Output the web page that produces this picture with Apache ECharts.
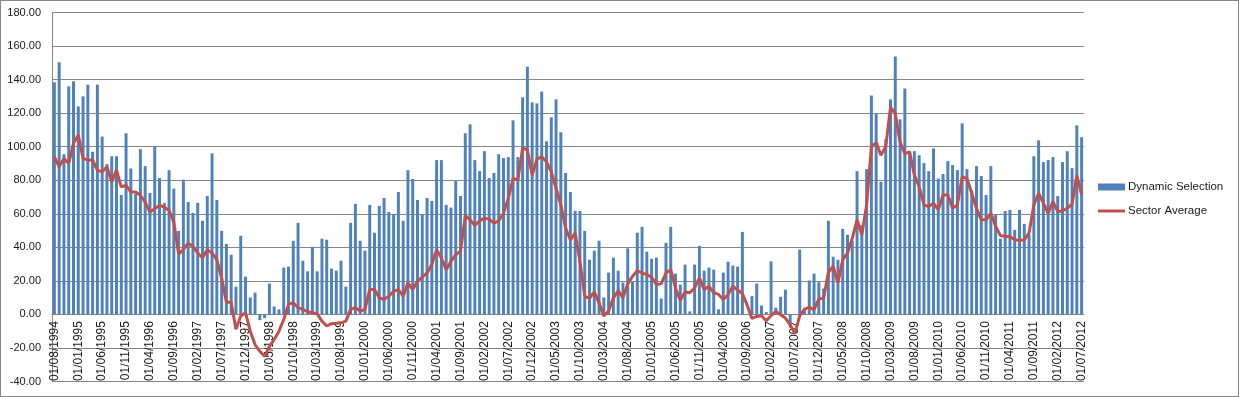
<!DOCTYPE html>
<html>
<head>
<meta charset="utf-8">
<script src="https://cdn.jsdelivr.net/npm/echarts@6/dist/echarts.min.js"></script>
<style>
  html, body { margin: 0; padding: 0; background: #fff; }
  #chart { width: 1239px; height: 397px; box-sizing: border-box; border: 1px solid #868686; }
</style>
</head>
<body>
<div id="chart"></div>
<script>
// monthly, first month 01/08/1994
var startYear = 1994;
var startMonth = 8;

var dynamicSelection = [
  138.4, 150.3, 95.5, 136, 139, 124, 130, 137, 97, 137,
  106, 89.6, 94.3, 94.3, 71.2, 108, 87, 71.8, 98.5, 88.4,
  72.4, 100.3, 81.3, 66.5, 86, 75, 49.8, 80.3, 67, 60.5,
  66.5, 55.8, 70.6, 96, 68.2, 49.8, 42, 35.6, 16.6, 46.9,
  22.5, 10.1, 13, -3.4, -2.2, 18.4, 4.7, 3, 27.9, 28.5,
  43.9, 54.6, 32, 25.7, 40.3, 25.7, 45.1, 44.5, 27.3, 26.1,
  32, 16.6, 54.6, 65.9, 43.9, 38, 65.3, 48.7, 64.7, 69.4,
  61.1, 59.7, 73, 55.8, 86, 80.7, 68.2, 59.7, 69.4, 67.6,
  92, 92, 65.3, 63.7, 79.5, 70.6, 108, 113.3, 92, 85.4,
  97.3, 81.3, 84.3, 95.5, 93.2, 93.8, 115.7, 93.8, 129.4, 147.7,
  126.4, 125.8, 132.9, 103.2, 117.5, 128.2, 108.6, 84.3, 73, 61.7,
  61.7, 49.8, 32.6, 38, 43.9, 10.1, 24.9, 33.8, 26.1, 19,
  39.4, 19.6, 48.7, 52.2, 37.4, 33.2, 33.8, 9.5, 42.7, 52.2,
  24.3, 17.8, 29.7, 1.8, 29.7, 40.9, 26.1, 27.9, 26.7, 3,
  24.9, 31.4, 29.1, 28.5, 49.2, 0.3, 10.9, 18.4, 5.3, 1.4,
  31.6, 4, 10.5, 14.8, -6, 0.3, 38.6, 3, 20.2, 24.3,
  19.2, 15.4, 55.8, 34.4, 32.6, 51, 47.5, 44, 85.4, 53.4,
  86.6, 130.5, 119.5, 79.1, 104.4, 128.2, 153.7, 116.3, 134.7, 97,
  97.3, 94.9, 90.2, 85.4, 99, 81, 83.7, 91.4, 89, 86,
  113.9, 86.6, 74, 88.4, 82.5, 71.2, 88.4, 59.3, 45.1, 61.7,
  62.3, 50.4, 62.3, 54, 47.5, 94.3, 103.8, 90.8, 92, 93.8,
  70.6, 90.8, 97.3, 87.2, 112.7, 105.6
];

var sectorAverage = [
  94, 88, 93, 90, 102, 107, 93, 92, 92, 86,
  85, 88, 79, 86, 76, 77, 73, 73, 71, 67,
  61, 63, 65, 64, 62, 55, 36, 38.6, 42.5, 40.5,
  36.6, 33.6, 38.6, 36.6, 32.6, 21.8, 7.3, 7.3, -8.9, -1,
  1, -10, -18, -22, -25, -19, -15, -10, -3, 6,
  7, 4, 3, 1.6, 1, 0.4, -4, -6.9, -5.5, -5.3,
  -5, -4, 3, 4, 2, 3, 14.8, 14.8, 9.9, 8.9,
  10.9, 13.8, 14.8, 10.9, 18.8, 14.8, 19.8, 22.2, 24.7, 29.7,
  38.6, 33.6, 26.7, 31.6, 35.6, 37.6, 58.9, 56.4, 53, 55.8,
  57.4, 56.8, 54.4, 55.8, 60.3, 69.2, 81.1, 80.1, 99.3, 97.9,
  83, 92.6, 94, 91, 85, 75.2, 65.3, 51.4, 44.5, 48.5,
  31.6, 10.9, 9.5, 13.4, 6.9, -1, 2, 9.9, 14.2, 9.9,
  18.2, 22.7, 26.1, 24.7, 23.7, 22.2, 17.8, 18.2, 24.7, 26.7,
  15.8, 8.3, 13.4, 12.9, 15.8, 21.8, 14.8, 16.8, 12.9, 11.9,
  8.9, 11.9, 16.8, 14.5, 12.5, 5.5, -2.4, -1.2, -0.8, -3.8,
  -0.8, 1.8, -0.2, -2.2, -6.2, -11.5, -0.8, 3.2, 4.2, 2.8,
  9.1, 9.7, 25, 28.7, 18.8, 32.6, 36.6, 45.5, 56.4, 47.5,
  65.3, 99.9, 102.5, 94.9, 99.9, 123.6, 119.7, 102.8, 95.9, 96.9,
  83, 76.1, 65.3, 64.3, 66.3, 62.3, 71.2, 71.2, 63.3, 65.3,
  82, 81, 72.2, 63.3, 56.4, 56.4, 60.3, 52.4, 47.1, 46.5,
  46.5, 44.5, 44.1, 44.5, 48.5, 65.3, 72.2, 66.3, 60.3, 67.2,
  61.3, 61.7, 63.3, 65.7, 83, 71.2
];

// dd/mm/yyyy labels, one per month
var months = [];
for (var k = 0; k < dynamicSelection.length; k++) {
  var m = (startMonth - 1 + k) % 12 + 1;
  var y = startYear + Math.floor((startMonth - 1 + k) / 12);
  months.push('01/' + (m < 10 ? '0' + m : m) + '/' + y);
}

var gridColor = '#868686';
var textColor = '#1a1a1a';
var fontFam = '"Liberation Sans", Arial, sans-serif';

var yMin = -40, yMax = 180;
var gridTop = 11.5, gridBottom = 14.5;
var plotHeight = 397 - gridTop - gridBottom;
// pull the category axis up so it sits on the zero line
var zeroOffset = -plotHeight * (0 - yMin) / (yMax - yMin);

var myChart = echarts.init(document.getElementById('chart'));

var option = {
  animation: false,
  grid: { left: 51, right: 154, top: gridTop, bottom: gridBottom, containLabel: false, outerBoundsMode: 'none' },
  legend: [
    {
      data: ['Dynamic Selection'],
      left: 1092, top: 175,
      orient: 'vertical',
      icon: 'rect',
      itemWidth: 27, itemHeight: 7,
      textStyle: { fontFamily: fontFam, fontSize: 11.5, color: textColor, padding: [0, 0, 0, -2] }
    },
    {
      data: ['Sector Average'],
      left: 1092, top: 199,
      orient: 'vertical',
      icon: 'rect',
      itemWidth: 27, itemHeight: 3,
      textStyle: { fontFamily: fontFam, fontSize: 11.5, color: textColor, padding: [0, 0, 0, -2] }
    }
  ],
  xAxis: {
    type: 'category',
    data: months,
    offset: zeroOffset,
    axisLine: { onZero: false, lineStyle: { color: gridColor } },
    axisTick: { show: false },
    axisLabel: {
      interval: 4,
      rotate: 90,
      margin: 7,
      fontFamily: fontFam,
      fontSize: 12,
      color: textColor
    },
    splitLine: { show: false }
  },
  yAxis: {
    type: 'value',
    min: yMin,
    max: yMax,
    interval: 20,
    axisLine: { show: true, lineStyle: { color: gridColor } },
    axisTick: { show: false },
    axisLabel: {
      margin: 11,
      fontFamily: fontFam,
      fontSize: 11,
      color: textColor,
      formatter: function (v) { return v.toFixed(2); }
    },
    splitLine: { lineStyle: { color: gridColor, width: 1 } }
  },
  series: [
    {
      name: 'Dynamic Selection',
      type: 'bar',
      data: dynamicSelection,
      barWidth: '62%',
      itemStyle: { color: '#4F81BD' }
    },
    {
      name: 'Sector Average',
      type: 'line',
      data: sectorAverage,
      symbol: 'none',
      z: 5,
      lineStyle: { color: '#C0504D', width: 3 },
      itemStyle: { color: '#C0504D' }
    }
  ]
};

myChart.setOption(option);
</script>
</body>
</html>
